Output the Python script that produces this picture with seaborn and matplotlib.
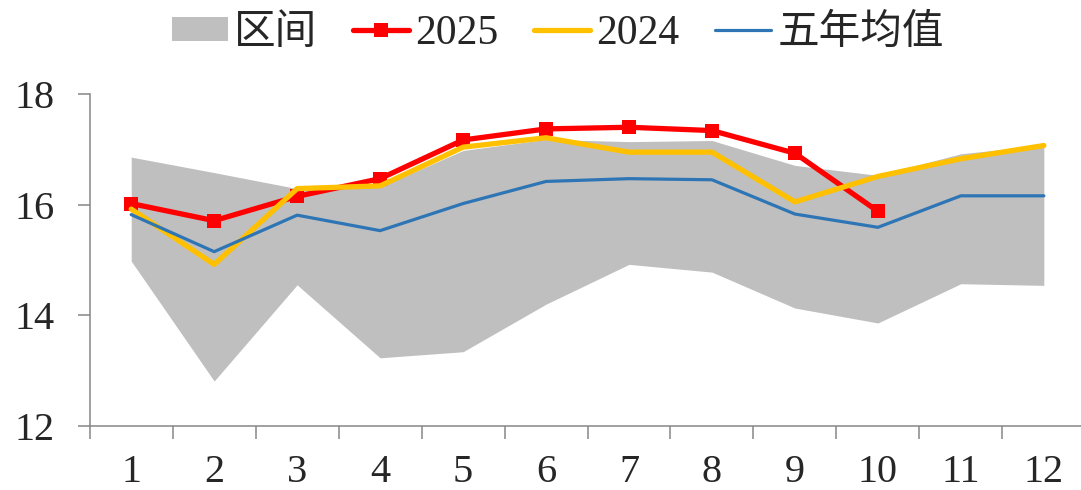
import numpy as np
import pandas as pd
import matplotlib
matplotlib.use("Agg")
import matplotlib.pyplot as plt
from matplotlib.patches import Patch
from matplotlib.lines import Line2D
import seaborn as sns

# ── data ──────────────────────────────────────────────────────────────────────
months     = list(range(1, 13))
month_lbls = [str(m) for m in months]
range_low  = [14.98, 12.81, 14.55, 13.23, 13.34, 14.20, 14.92, 14.78, 14.13, 13.86, 14.57, 14.54]
range_high = [16.86, 16.58, 16.29, 16.32, 16.98, 17.18, 17.14, 17.16, 16.71, 16.53, 16.92, 17.08]
y2025      = [16.02, 15.71, 16.15, 16.47, 17.17, 17.37, 17.40, 17.34, 16.93, 15.88]
y2024      = [15.92, 14.92, 16.29, 16.34, 17.04, 17.21, 16.95, 16.95, 16.05, 16.51, 16.83, 17.07]
avg5       = [15.82, 15.15, 15.81, 15.53, 16.02, 16.42, 16.47, 16.45, 15.83, 15.59, 16.16, 16.16]

C_RANGE = "#BFBFBF"
C_2025  = "#FF0000"
C_2024  = "#FFC000"
C_AVG   = "#2E75B6"
C_AXIS  = "#868686"

sns.set_style("ticks")
plt.rcParams["font.family"] = ["Liberation Serif", "Noto Sans CJK SC"]

fig = plt.figure(figsize=(10.81, 4.9), dpi=100)
ax = fig.add_axes([0.083, 0.131, 0.921, 0.677])

ax.fill_between(months, range_low, range_high, color=C_RANGE, lw=0, zorder=1)
sns.lineplot(x=months[:len(y2025)], y=y2025, ax=ax, color=C_2025, lw=3.8,
             marker="s", markersize=10.5, markeredgewidth=0, zorder=3)
sns.lineplot(x=months, y=y2024, ax=ax, color=C_2024, lw=3.8, zorder=4)
sns.lineplot(x=months, y=avg5, ax=ax, color=C_AVG, lw=2.3, zorder=5)

ax.set_xlim(0.5, 12.5)
ax.set_ylim(12, 18)
ax.set_yticks([12, 14, 16, 18])
ax.set_xticks(np.arange(0.5, 13, 1))
ax.set_xticklabels([])
ax.set_xticks(months, minor=True)
ax.set_xticklabels(month_lbls, minor=True)
ax.tick_params(axis="x", which="major", length=9, width=1.1, color=C_AXIS, direction="out")
ax.tick_params(axis="x", which="minor", length=0, pad=20, labelsize=29)
ax.tick_params(axis="y", length=9, width=1.1, color=C_AXIS, pad=16, labelsize=29)
sns.despine(ax=ax)
for s in ["left", "bottom"]:
    ax.spines[s].set_color(C_AXIS)
    ax.spines[s].set_linewidth(1.1)
ax.set_xlabel("")
ax.set_ylabel("")

handles = [
    Patch(facecolor=C_RANGE, edgecolor="none"),
    Line2D([], [], color=C_2025, lw=3.8, marker="s", markersize=10.5, markeredgewidth=0),
    Line2D([], [], color=C_2024, lw=3.8),
    Line2D([], [], color=C_AVG, lw=2.3),
]
labels = ["区间", "2025", "2024", "五年均值"]
fig.legend(handles, labels, loc="center", bbox_to_anchor=(0.516, 0.932), ncol=4,
           frameon=False, fontsize=30, handlelength=1.35, handleheight=0.5,
           handletextpad=0.15, columnspacing=0.85)

fig.savefig("out.png", dpi=100)
